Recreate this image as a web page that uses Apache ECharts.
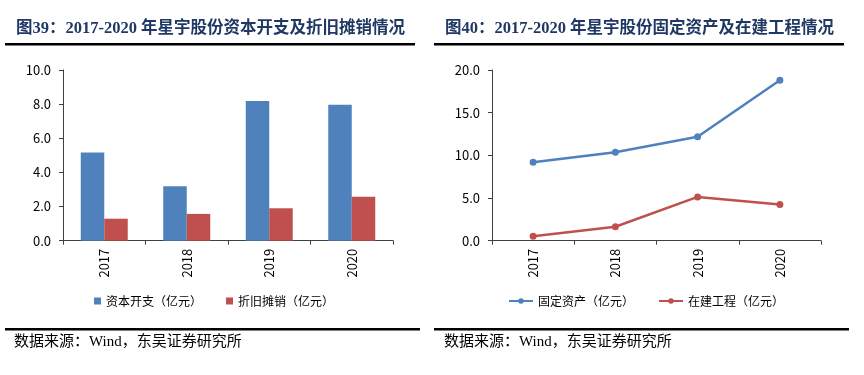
<!DOCTYPE html>
<html><head><meta charset="utf-8">
<script src="https://cdn.jsdelivr.net/npm/echarts@6/dist/echarts.min.js"></script>
<style>html,body{margin:0;padding:0;background:#fff}#c{width:864px;height:375px}</style>
</head><body><div id="c"></div>
<script>
const years = ['2017','2018','2019','2020'];
const capex = [5.17, 3.19, 8.18, 7.96];
const depreciation = [1.29, 1.57, 1.90, 2.58];
const fixedAssets = [9.2, 10.37, 12.17, 18.79];
const construction = [0.51, 1.64, 5.13, 4.23];
const leftTicks = {min: 0, max: 10, interval: 2};
const rightTicks = {min: 0, max: 20, interval: 5};
const title1 = '图39：2017-2020 年星宇股份资本开支及折旧摊销情况';
const title2 = '图40：2017-2020 年星宇股份固定资产及在建工程情况';
const source = '数据来源：Wind，东吴证券研究所';

const sans = '"Noto Sans CJK SC", "Microsoft YaHei", sans-serif';
const serif = '"Liberation Serif", "Noto Sans CJK SC", serif';
const blue = '#4F81BD', red = '#C0504D';
const axisColor = '#404040';

function xAxis(gi){
  return {type:'category', gridIndex:gi, data:years,
    axisLine:{lineStyle:{color:axisColor,width:1}},
    axisTick:{show:true, length:4, lineStyle:{color:axisColor}},
    axisLabel:{rotate:90, margin:8, color:'#000', fontSize:13, fontFamily:sans}};
}
function yAxis(gi, t, margin){
  return {type:'value', gridIndex:gi, min:t.min, max:t.max, interval:t.interval,
    axisLine:{show:true, lineStyle:{color:axisColor,width:1}},
    axisTick:{show:true, length:4, inside:false, lineStyle:{color:axisColor}},
    splitLine:{show:false},
    axisLabel:{margin:margin, color:'#000', fontSize:13, fontFamily:sans, formatter:v=>v.toFixed(1)}};
}

const chart = echarts.init(document.getElementById('c'), null, {renderer:'canvas'});
chart.setOption({
  backgroundColor:'#fff',
  animation:false,
  grid:[
    {left:63, top:70, width:330, height:170.7},
    {left:492, top:70, width:329, height:170.7}
  ],
  xAxis:[xAxis(0), xAxis(1)],
  yAxis:[yAxis(0,leftTicks,12), yAxis(1,rightTicks,12)],
  legend:[
    {left:89, top:290, itemWidth:7, itemHeight:7, itemGap:24, icon:'rect',
     textStyle:{fontSize:12, color:'#000', fontFamily:sans},
     data:['资本开支（亿元）','折旧摊销（亿元）']},
    {left:503, top:290, itemWidth:24, itemHeight:7, itemGap:24,
     textStyle:{fontSize:12, color:'#000', fontFamily:sans},
     data:['固定资产（亿元）','在建工程（亿元）']}
  ],
  series:[
    {name:'资本开支（亿元）', type:'bar', xAxisIndex:0, yAxisIndex:0, data:capex,
     barWidth:23.5, barGap:'0%', itemStyle:{color:blue}},
    {name:'折旧摊销（亿元）', type:'bar', xAxisIndex:0, yAxisIndex:0, data:depreciation,
     barWidth:23.5, barGap:'0%', itemStyle:{color:red}},
    {name:'固定资产（亿元）', type:'line', xAxisIndex:1, yAxisIndex:1, data:fixedAssets,
     symbol:'circle', symbolSize:7, lineStyle:{color:blue,width:2.5}, itemStyle:{color:blue}},
    {name:'在建工程（亿元）', type:'line', xAxisIndex:1, yAxisIndex:1, data:construction,
     symbol:'circle', symbolSize:7, lineStyle:{color:red,width:2.5}, itemStyle:{color:red}}
  ],
  graphic:[
    {type:'text', left:16, top:20, style:{text:title1, fill:'#1f3864', font:'bold 16.5px '+serif}},
    {type:'text', left:445, top:20, style:{text:title2, fill:'#1f3864', font:'bold 16.5px '+serif}},
    {type:'rect', shape:{x:5, y:43, width:410, height:2.5}, style:{fill:'#000'}},
    {type:'rect', shape:{x:434, y:43, width:410, height:2.5}, style:{fill:'#000'}},
    {type:'rect', shape:{x:5, y:328, width:415, height:2.5}, style:{fill:'#000'}},
    {type:'rect', shape:{x:434, y:328, width:415, height:2.5}, style:{fill:'#000'}},
    {type:'text', left:14, top:335, style:{text:source, fill:'#000', font:'15px '+serif}},
    {type:'text', left:444, top:335, style:{text:source, fill:'#000', font:'15px '+serif}}
  ]
});
</script></body></html>
